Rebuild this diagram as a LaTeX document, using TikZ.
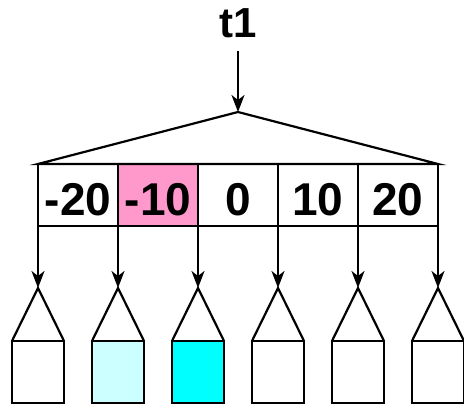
\documentclass[tikz,border=0pt]{standalone}
\usepackage{fontspec}
\setmainfont{Liberation Sans}
\usetikzlibrary{arrows.meta,calc}
\definecolor{rosepink}{HTML}{FF99CC}
\definecolor{palecyan}{HTML}{CCFFFF}
\definecolor{cyanfill}{HTML}{00FFFF}
\tikzset{
	big/.style={font=\fontsize{46}{54}\selectfont\bfseries},
	title/.style={font=\fontsize{42}{50}\selectfont\bfseries, anchor=base, inner sep=12pt},
	cell/.style={
		draw, rectangle, minimum width=80pt, minimum height=62pt,
		inner sep=0pt, outer sep=0pt, text height=42pt, text depth=0pt, big
	},
	leaf/.style={
		draw, rectangle, minimum width=52pt, minimum height=62pt,
		inner sep=0pt, outer sep=0pt
	},
	feed/.style={-{Stealth[length=17pt,width=13pt,inset=5pt]}}
}

\begin{document}
\begin{tikzpicture}[x=1pt, y=-1pt, line width=2.2pt]
	\useasboundingbox (0,0) rectangle (464,406);
	\node[title] (t1) at (238,38) {t1};
	\coordinate (apex) at (238,112);
	\foreach \v/\f [count=\i from 0] in {-20/white,-10/rosepink,0/white,10/white,20/white}
		\node[cell, fill=\f] (c\i) at (78+80*\i,195) {\v};
	\draw (c0.north west) -- (apex) -- (c4.north east) -- cycle;
	\draw[feed] (t1) -- (apex);
	\foreach \f [count=\i from 0] in {white,palecyan,cyanfill,white,white,white} {
		\node[leaf, fill=\f] (l\i) at (38+80*\i,372) {};
		\coordinate (a\i) at (38+80*\i,288);
		\draw (l\i.north west) -- (a\i) -- (l\i.north east);
	}
	\foreach \i in {0,...,4}
		\draw[feed] (c\i.south west) -- (a\i);
	\draw[feed] (c4.south east) -- (a5);
\end{tikzpicture}
\end{document}
